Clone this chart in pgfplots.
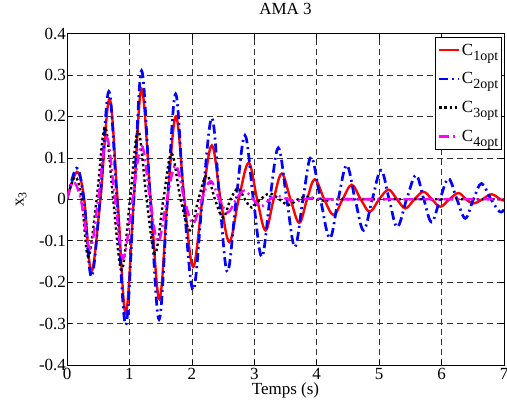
\documentclass[border=0pt]{standalone}
\usepackage{pgfplots}
\pgfplotsset{compat=1.18}
\usepackage{fontspec}
\setmainfont{Liberation Serif}
\definecolor{mag}{rgb}{1,0,1}
\definecolor{rd}{rgb}{1,0,0}
\definecolor{bl}{rgb}{0,0,1}
\newcommand\lsub[1]{\raisebox{-5bp}{\fontsize{14bp}{14bp}\selectfont #1}}
\begin{document}
\begin{tikzpicture}[font=\fontsize{17bp}{20bp}\selectfont]
\begin{axis}[
  name=ax,
  scale only axis,
  width=437bp, height=331.5bp,
  xmin=0, xmax=7, ymin=-0.4, ymax=0.4,
  xtick={0,1,2,3,4,5,6,7},
  ytick={-0.4,-0.3,-0.2,-0.1,0,0.1,0.2,0.3,0.4},
  yticklabels={-0.4,-0.3,-0.2,-0.1,0,0.1,0.2,0.3,0.4},
  /pgf/number format/assume math mode=true,
  tick align=inside,
  major tick length=5bp,
  tick style={black, line width=0.6bp},
  axis line style={black, line width=0.8bp},
  grid=major,
  major grid style={black!80, line width=0.6bp, dash pattern=on 6bp off 4bp},
  yticklabel style={xshift=2.5bp},
  title={AMA 3},
  title style={at={(axis description cs:0.5,1)}, anchor=base, yshift=13.5bp},
  xlabel={Temps (s)},
  xlabel style={at={(axis description cs:0.5,-0.077)}, anchor=center},
  ylabel={x\textsubscript{3}},
  ylabel style={at={(axis description cs:-0.105,0.5)}, anchor=center},
  legend style={at={(axis description cs:1,1)}, anchor=north east, xshift=-2bp, yshift=-3.5bp,
    draw=black, line width=0.6bp, fill=white, row sep=13bp, inner xsep=2bp, inner ysep=5bp,
    nodes={inner sep=1.5bp, anchor=west}},
  legend cell align=left,
  legend image code/.code={\draw[#1] (0bp,0bp) -- (20bp,0bp);},
]
\addplot[rd, line width=2.4bp, smooth, tension=0.6] coordinates {
(0,0) (0.16,0.066) (0.275,0) (0.39,-0.175) (0.535,0) (0.68,0.242) (0.81,0)
(0.94,-0.275) (1.07,0) (1.195,0.266) (1.34,0) (1.48,-0.241) (1.61,0)
(1.745,0.20) (1.88,0) (2.02,-0.163) (2.17,0) (2.32,0.13) (2.46,0)
(2.60,-0.103) (2.75,0) (2.91,0.088) (3.045,0) (3.18,-0.075) (3.31,0)
(3.44,0.062) (3.58,0) (3.72,-0.057) (3.845,0) (3.97,0.048) (4.12,0)
(4.27,-0.038) (4.415,0) (4.56,0.035) (4.705,0) (4.85,-0.030) (5.0,0)
(5.15,0.023) (5.285,0) (5.42,-0.022) (5.565,0) (5.71,0.018) (5.845,0)
(5.98,-0.018) (6.125,0) (6.27,0.015) (6.39,0) (6.51,-0.01) (6.655,0)
(6.80,0.012) (6.94,0) (7.0,-0.003)
};
\addlegendentry{C\lsub{1opt}}
\addplot[bl, line width=2.7bp, smooth, tension=0.6, dash pattern=on 9bp off 4bp on 2bp off 4bp] coordinates {
(0,0) (0.155,0.075) (0.27,0) (0.39,-0.187) (0.53,0) (0.67,0.26) (0.80,0)
(0.94,-0.303) (1.07,0) (1.195,0.31) (1.335,0) (1.475,-0.29) (1.61,0)
(1.74,0.254) (1.87,0) (2.02,-0.219) (2.17,0) (2.32,0.196) (2.445,0)
(2.57,-0.175) (2.71,0) (2.85,0.154) (2.985,0) (3.12,-0.139) (3.25,0)
(3.385,0.124) (3.52,0) (3.65,-0.115) (3.78,0) (3.91,0.102) (4.06,0)
(4.21,-0.094) (4.345,0) (4.48,0.082) (4.615,0) (4.75,-0.075) (4.89,0)
(5.03,0.07) (5.16,0) (5.29,-0.067) (5.44,0) (5.59,0.058) (5.715,0)
(5.84,-0.055) (5.975,0) (6.11,0.05) (6.245,0) (6.38,-0.046) (6.51,0)
(6.64,0.038) (6.79,0) (6.93,-0.03) (7.0,-0.025)
};
\addlegendentry{C\lsub{2opt}}
\addplot[black, line width=2.4bp, smooth, tension=0.6, dash pattern=on 2.4bp off 2.8bp] coordinates {
(0,0) (0.13,0.054) (0.235,0) (0.34,-0.139) (0.475,0) (0.61,0.174) (0.74,0)
(0.875,-0.171) (1.01,0) (1.14,0.166) (1.275,0) (1.41,-0.131) (1.545,0)
(1.675,0.11) (1.82,0) (1.97,-0.075) (2.105,0) (2.24,0.058) (2.37,0)
(2.50,-0.044) (2.62,0) (2.74,0.026) (2.85,0) (2.96,-0.02) (3.1,0)
(3.25,0.014) (3.4,0) (3.55,-0.014) (3.7,0) (3.85,0.006) (4.0,0)
(4.15,-0.004) (4.3,0) (5.5,0) (7,0)
};
\addlegendentry{C\lsub{3opt}}
\addplot[mag, line width=2.4bp, smooth, tension=0.6, dash pattern=on 10bp off 4bp on 2bp off 4bp] coordinates {
(0,0) (0.10,0.042) (0.22,0) (0.37,-0.119) (0.50,0) (0.635,0.15) (0.77,0)
(0.90,-0.143) (1.05,0) (1.195,0.13) (1.33,0) (1.46,-0.103) (1.60,0)
(1.74,0.082) (1.88,0) (2.02,-0.058) (2.16,0) (2.30,0.044) (2.44,0)
(2.575,-0.032) (2.71,0) (2.84,0.021) (2.98,0) (3.11,-0.017) (3.25,0)
(3.39,0.008) (3.53,0) (3.67,-0.005) (3.81,0) (3.95,0.003) (4.2,0)
(5.5,0) (7,0)
};
\addlegendentry{C\lsub{4opt}}
\end{axis}
\pgfresetboundingbox
\path ([shift={(-67bp,-38bp)}]ax.south west) rectangle ([shift={(3bp,33.5bp)}]ax.north east);
\end{tikzpicture}
\end{document}
